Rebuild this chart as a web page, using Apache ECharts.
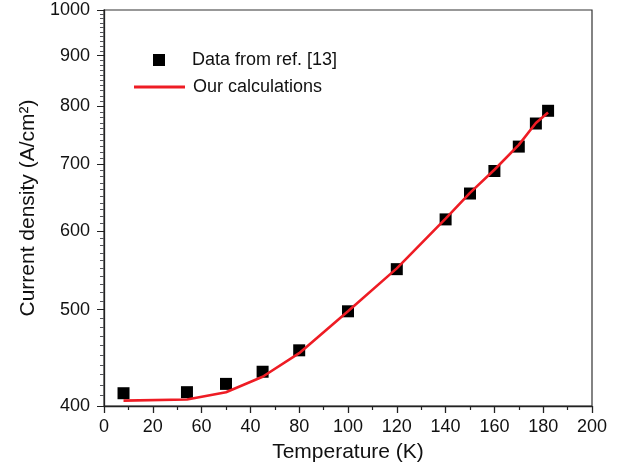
<!DOCTYPE html>
<html>
<head>
<meta charset="utf-8">
<script src="https://cdn.jsdelivr.net/npm/echarts@6/dist/echarts.min.js"></script>
<style>html,body{margin:0;padding:0;background:#fff}#c{width:630px;height:468px}</style>
</head>
<body>
<div id="c"></div>
<script>
// Data
var tempData = [8, 34, 50, 65, 80, 100, 120, 140, 150, 160, 170, 177, 182];
var refValues = [412, 413, 421, 433, 455, 498, 549, 616, 654, 689, 729, 769, 792];
var calcTemps = [8, 34, 50, 65, 80, 100, 120, 140, 150, 160, 170, 177, 182];
var calcValues = [405, 406, 413, 428, 452, 498, 550, 617, 655, 691, 732, 770, 789];
var xTickLabels = ['0', '20', '60', '40', '80', '100', '120', '140', '160', '180', '200'];
var yMajorTicks = [400, 500, 600, 700, 800, 900, 1000];
var yMinorTicks = [];
for (var v = 410; v < 1000; v += 10) { if (v % 100 !== 0) yMinorTicks.push(v); }

var FONT = "'Liberation Sans', Arial, sans-serif";
var chart = echarts.init(document.getElementById('c'), null, {renderer: 'canvas'});
var refSeries = tempData.map(function (t, i) { return [t, refValues[i]]; });
var calcSeries = calcTemps.map(function (t, i) { return [t, calcValues[i]]; });

chart.setOption({
  animation: false,
  backgroundColor: '#fff',
  textStyle: {fontFamily: FONT},
  grid: {left: 104, top: 10, right: 38, bottom: 62, show: true, borderColor: '#333', borderWidth: 1.2},
  legend: [{
    data: ['Data from ref. [13]'],
    left: 148, top: 46,
    itemWidth: 12, itemHeight: 12,
    icon: 'rect',
    itemStyle: {color: '#000', opacity: 1},
    textStyle: {fontSize: 18, color: '#111', fontFamily: FONT, padding: [0, 0, 0, 22]}
  }, {
    data: ['Our calculations'],
    left: 129, top: 73,
    itemWidth: 51, itemHeight: 3,
    icon: 'path://M0,0L51,0L51,3L0,3Z',
    textStyle: {fontSize: 18, color: '#111', fontFamily: FONT, padding: [0, 0, 0, 3]}
  }],
  xAxis: {
    type: 'value', min: 0, max: 200, interval: 20,
    name: 'Temperature (K)', nameLocation: 'middle', nameGap: 36,
    nameTextStyle: {fontSize: 21, color: '#111', fontFamily: FONT},
    axisLine: {lineStyle: {color: '#222', width: 1.3}},
    axisTick: {show: true, length: 7, lineStyle: {color: '#222', width: 1.3}},
    minorTick: {show: true, splitNumber: 2, length: 4, lineStyle: {color: '#222', width: 1.2}},
    axisLabel: {fontSize: 18, color: '#111', margin: 12, fontFamily: FONT,
      formatter: function (val) { return xTickLabels[Math.round(val / 20)]; }},
    splitLine: {show: false}
  },
  yAxis: [{
    type: 'log', logBase: 10, min: 400, max: 1000, position: 'left', offset: 0,
    name: 'Current density (A/cm²)', nameLocation: 'middle', nameGap: 59,
    nameTextStyle: {fontSize: 21, color: '#111', fontFamily: FONT},
    axisLine: {show: true, lineStyle: {color: '#222', width: 1.3}},
    axisTick: {show: true, length: 7, customValues: yMajorTicks},
    axisLabel: {fontSize: 18, color: '#111', margin: 14, fontFamily: FONT, customValues: yMajorTicks,
      formatter: function (val) { return String(Math.round(val)); }},
    splitLine: {show: false}
  }, {
    type: 'log', logBase: 10, min: 400, max: 1000, position: 'left', offset: 0.01,
    axisLine: {show: false},
    axisTick: {show: true, length: 4, customValues: yMinorTicks},
    axisLabel: {show: false},
    splitLine: {show: false}
  }],
  series: [{
    name: 'Our calculations', type: 'line', data: calcSeries,
    yAxisIndex: 0, showSymbol: false, symbol: 'none', smooth: false,
    lineStyle: {color: '#ee1c24', width: 2.6}, itemStyle: {color: '#ee1c24'}, z: 2
  }, {
    name: 'Data from ref. [13]', type: 'scatter', data: refSeries,
    yAxisIndex: 0, symbol: 'rect', symbolSize: 12,
    itemStyle: {color: '#000', opacity: 1}, z: 1
  }]
});
</script>
</body>
</html>
